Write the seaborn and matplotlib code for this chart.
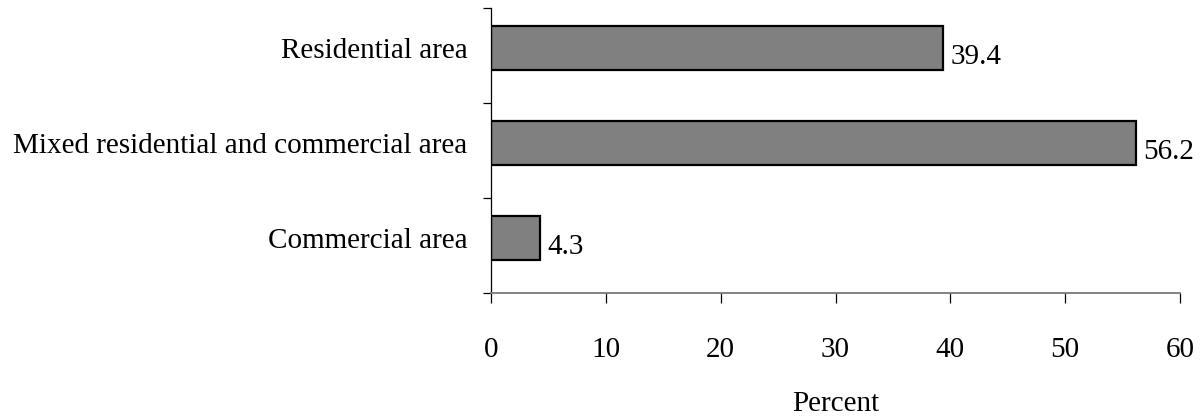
import matplotlib
matplotlib.use("Agg")
import matplotlib.pyplot as plt
import seaborn as sns
import pandas as pd

categories = ["Residential area", "Mixed residential and commercial area", "Commercial area"]
percent = [39.4, 56.2, 4.3]
x_ticks = [0, 10, 20, 30, 40, 50, 60]

sns.set_style("ticks")
plt.rcParams["font.family"] = ["Liberation Serif", "DejaVu Serif"]
plt.rcParams["text.color"] = "black"
plt.rcParams["axes.labelcolor"] = "black"
plt.rcParams["xtick.color"] = "black"
plt.rcParams["ytick.color"] = "black"

df = pd.DataFrame({"category": categories, "percent": percent})

fig = plt.figure(figsize=(12, 4.17), dpi=100)
ax = fig.add_axes([491 / 1200, 1 - 293 / 417, 689 / 1200, 285 / 417])

sns.barplot(data=df, x="percent", y="category", orient="h", color="#808080",
            saturation=1, edgecolor="black", linewidth=1.6, width=0.47, ax=ax)

ax.set_xlim(0, 60)
ax.set_ylim(2.58, -0.42)
ax.set_xticks(x_ticks)
ax.set_xticklabels([str(t) for t in x_ticks], fontsize=21)
ax.tick_params(axis="x", direction="out", length=7, width=0.9, color="black", pad=25)
ax.tick_params(axis="y", which="major", length=0, pad=17, labelsize=21)
ax.set_yticks([-0.42, 0.58, 1.58, 2.58], minor=True)
ax.tick_params(axis="y", which="minor", length=6, width=0.9, color="black", direction="out")

for spine in ["top", "right"]:
    ax.spines[spine].set_visible(False)
ax.spines["left"].set_color("black")
ax.spines["left"].set_linewidth(0.9)
ax.spines["bottom"].set_color("#7a7a7a")
ax.spines["bottom"].set_linewidth(1.3)

ax.set_ylabel("")
ax.set_xlabel("Percent", fontsize=21, labelpad=20)

for i, v in enumerate(percent):
    ax.text(v + 0.6, i + 0.095, f"{v}", va="center", ha="left", fontsize=21)

fig.savefig("out.png", dpi=100)
